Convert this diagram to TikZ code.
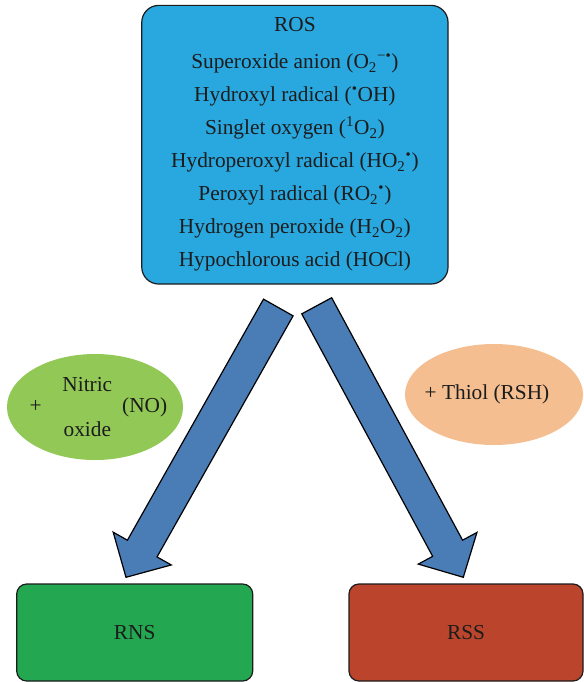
\documentclass[tikz,border=0pt]{standalone}
\usepackage{fontspec}
\setmainfont{Liberation Serif}
\usetikzlibrary{shapes.geometric,calc}

\definecolor{rosblue}{RGB}{41,168,224}
\definecolor{arrowblue}{RGB}{74,124,182}
\definecolor{nogreen}{RGB}{146,200,86}
\definecolor{thiolorange}{RGB}{244,190,144}
\definecolor{rnsgreen}{RGB}{35,167,80}
\definecolor{rssred}{RGB}{187,69,44}
\definecolor{inkblack}{RGB}{28,28,28}

\tikzset{
  bigtext/.style={text=inkblack, inner sep=0pt, font=\fontsize{16}{24.75}\selectfont},
  speciesbox/.style={bigtext, draw=inkblack, line width=0.9pt, rectangle},
  reagentel/.style={ellipse, inner sep=0pt},
  arrowbody/.style={fill=arrowblue, draw=black, line width=0.9pt, line join=miter},
}

% block arrow from #1 to the tip #2
\newcommand{\blockarrow}[2]{%
  \coordinate (hb) at ($(#2)!24.75pt!(#1)$);
  \draw[arrowbody] ($(#1)!12.75pt!90:(#2)$) -- ($(hb)!12.75pt!90:(#2)$)
    -- ($(hb)!25pt!90:(#2)$) -- (#2) -- ($(hb)!25pt!-90:(#2)$)
    -- ($(hb)!12.75pt!-90:(#2)$) -- ($(#1)!12.75pt!-90:(#2)$) -- cycle;
}

\begin{document}
\begin{tikzpicture}[x=0.75pt,y=0.75pt,yscale=-1]
\useasboundingbox (0,0) rectangle (584,682);

%Shape: Rounded Rect
\node[speciesbox, fill=rosblue, rounded corners=12.75pt, minimum width=229.7pt, minimum height=209pt, align=center] (ros) at (294.9,144.7) {ROS\\[3pt]
  Superoxide anion (O\textsubscript{2}\textsuperscript{−\textbullet})\\
  Hydroxyl radical (\textsuperscript{\textbullet}OH)\\
  Singlet oxygen (\textsuperscript{1}O\textsubscript{2})\\
  Hydroperoxyl radical (HO\textsubscript{2}\textsuperscript{\textbullet})\\
  Peroxyl radical (RO\textsubscript{2}\textsuperscript{\textbullet})\\
  Hydrogen peroxide (H\textsubscript{2}O\textsubscript{2})\\
  Hypochlorous acid (HOCl)};

%Shape: Ellipse
\node[reagentel, fill=nogreen, minimum width=132pt, minimum height=79.5pt] (noel) at (95,407) {};
%Shape: Ellipse
\node[reagentel, fill=thiolorange, minimum width=133.5pt, minimum height=75.75pt] (thiolel) at (494,394.5) {};

%Shape: Rounded Rect
\node[speciesbox, fill=rnsgreen, rounded corners=7.5pt, minimum width=177pt, minimum height=72.75pt] (rns) at (134.7,632.5) {RNS};
%Shape: Rounded Rect
\node[speciesbox, fill=rssred, rounded corners=7.5pt, minimum width=175.5pt, minimum height=72.75pt] (rss) at (466,632.5) {RSS};

%Block Arrows
\coordinate (lstart) at (278.3,307.5);
\coordinate (ltip) at (126,577.3);
\coordinate (rstart) at (316.7,305.8);
\coordinate (rtip) at (463.3,577.3);
\blockarrow{lstart}{ltip}
\blockarrow{rstart}{rtip}

% Text Node
\node[bigtext] (notext) at ([xshift=2.6pt]noel.center) {+\hspace{15.5pt}\begin{tabular}{@{}c@{}}Nitric\\[9pt]oxide\end{tabular}\hspace{7.5pt}(NO)};
% Text Node
\node[bigtext] (thioltext) at ([xshift=-5.25pt]thiolel.center) {+ Thiol (RSH)};

\end{tikzpicture}
\end{document}
